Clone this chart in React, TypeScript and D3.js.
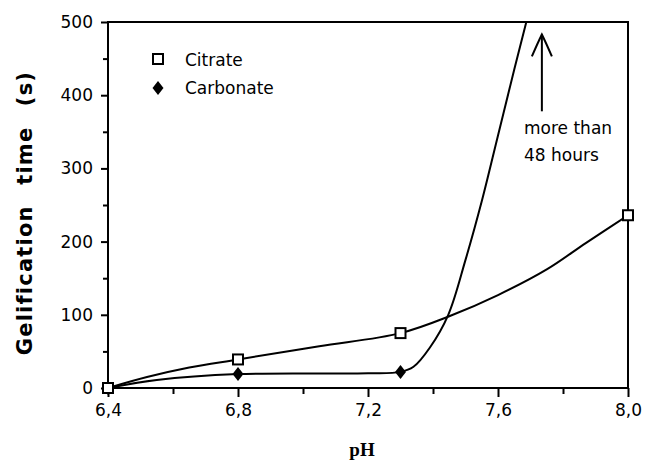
import React, { useEffect, useRef } from "react";
import * as d3 from "d3";

// marker values
const citratePH = [6.4, 6.8, 7.3, 8.0];
const citrateTime = [0, 39, 75, 236];
const carbonatePH = [6.4, 6.8, 7.3];
const carbonateTime = [0, 19, 22];

// fitted curves as drawn in the figure
const citrateCurvePH = [6.4, 6.52, 6.65, 6.8, 7.05, 7.3, 7.45, 7.6, 7.75, 7.87, 8.0];
const citrateCurveTime = [0, 15, 28, 39, 57, 75, 98, 127, 162, 198, 236];
const carbonateCurvePH = [6.4, 6.55, 6.8, 7.2, 7.3, 7.34, 7.39, 7.447, 7.5, 7.55, 7.6, 7.65, 7.69];
const carbonateCurveTime = [0, 11, 19, 20, 22, 29, 55, 100, 175, 255, 345, 435, 505];

const xMajorTicks = [6.4, 6.8, 7.2, 7.6, 8.0];
const xMinorTicks = [6.6, 7.0, 7.4, 7.8];
const yMajorTicks = [0, 100, 200, 300, 400, 500];
const yMinorTicks = [50, 150, 250, 350, 450];

const FONT = "'DejaVu Sans', sans-serif";

export default function App() {
  const svgRef = useRef<SVGSVGElement>(null);

  useEffect(() => {
    const svg = d3.select(svgRef.current);
    svg.selectAll("*").remove();

    const W = 645;
    const H = 463;
    const margin = { top: 22, right: 17, bottom: 75, left: 108 };
    const width = W - margin.left - margin.right;
    const height = H - margin.top - margin.bottom;

    svg.attr("width", W).attr("height", H);

    const x = d3.scaleLinear().domain([6.4, 8.0]).range([0, width]);
    const y = d3.scaleLinear().domain([0, 500]).range([height, 0]);

    const g = svg
      .append("g")
      .attr("transform", `translate(${margin.left},${margin.top})`);

    g.append("defs")
      .append("clipPath")
      .attr("id", "plot-clip")
      .append("rect")
      .attr("width", width)
      .attr("height", height);

    // frame
    g.append("rect")
      .attr("width", width)
      .attr("height", height)
      .attr("fill", "none")
      .attr("stroke", "#000")
      .attr("stroke-width", 2);

    const comma = (v: number) => d3.format(".1f")(v).replace(".", ",");

    // x axis
    const xAxis = g.append("g").attr("transform", `translate(0,${height})`);
    xAxis
      .call(
        d3.axisBottom(x).tickValues(xMajorTicks).tickSize(9).tickPadding(7).tickFormat((d) => comma(+d))
      )
      .call((a) => a.select(".domain").remove());
    xAxis
      .append("g")
      .call(d3.axisBottom(x).tickValues(xMinorTicks).tickSize(6).tickFormat(() => ""))
      .call((a) => a.select(".domain").remove());

    // y axis
    const yAxis = g.append("g");
    yAxis
      .call(d3.axisLeft(y).tickValues(yMajorTicks).tickSize(7).tickPadding(8))
      .call((a) => a.select(".domain").remove());
    yAxis
      .append("g")
      .call(d3.axisLeft(y).tickValues(yMinorTicks).tickSize(5).tickFormat(() => ""))
      .call((a) => a.select(".domain").remove());

    svg.selectAll(".tick line").attr("stroke", "#000").attr("stroke-width", 2);
    svg
      .selectAll(".tick text")
      .attr("fill", "#000")
      .style("font-family", FONT)
      .style("font-size", "17px");

    // axis titles
    svg
      .append("text")
      .attr("transform", "translate(25,213) rotate(-90)")
      .attr("text-anchor", "middle")
      .attr("dominant-baseline", "central")
      .style("font-family", FONT)
      .style("font-weight", "bold")
      .style("font-size", "21px")
      .style("letter-spacing", "1.2px")
      .style("word-spacing", "12px")
      .text("Gelification time (s)");

    svg
      .append("text")
      .attr("x", margin.left + x(7.2) - 6)
      .attr("y", 449)
      .attr("text-anchor", "middle")
      .attr("dominant-baseline", "central")
      .style("font-family", "'Liberation Serif', serif")
      .style("font-weight", "bold")
      .style("font-size", "19px")
      .text("pH");

    // curves
    const line = d3
      .line<[number, number]>()
      .x((d) => x(d[0]))
      .y((d) => y(d[1]))
      .curve(d3.curveCatmullRom.alpha(0.5));

    const plot = g.append("g").attr("clip-path", "url(#plot-clip)");

    plot
      .append("path")
      .datum(citrateCurvePH.map((p, i) => [p, citrateCurveTime[i]] as [number, number]))
      .attr("d", line)
      .attr("fill", "none")
      .attr("stroke", "#000")
      .attr("stroke-width", 2);

    plot
      .append("path")
      .datum(carbonateCurvePH.map((p, i) => [p, carbonateCurveTime[i]] as [number, number]))
      .attr("d", line)
      .attr("fill", "none")
      .attr("stroke", "#000")
      .attr("stroke-width", 2);

    const diamond = "M0,-7L5.5,0L0,7L-5.5,0Z";

    // markers
    g.selectAll(".carb")
      .data(carbonatePH.map((p, i) => [p, carbonateTime[i]]))
      .enter()
      .append("path")
      .attr("class", "carb")
      .attr("transform", (d) => `translate(${x(d[0])},${y(d[1])})`)
      .attr("d", diamond)
      .attr("fill", "#000");

    g.selectAll(".cit")
      .data(citratePH.map((p, i) => [p, citrateTime[i]]))
      .enter()
      .append("rect")
      .attr("class", "cit")
      .attr("x", (d) => x(d[0]) - 5)
      .attr("y", (d) => y(d[1]) - 5)
      .attr("width", 10)
      .attr("height", 10)
      .attr("fill", "#fff")
      .attr("stroke", "#000")
      .attr("stroke-width", 2);

    // legend
    const legend = svg.append("g");
    legend
      .append("rect")
      .attr("x", 153)
      .attr("y", 54)
      .attr("width", 10)
      .attr("height", 10)
      .attr("fill", "#fff")
      .attr("stroke", "#000")
      .attr("stroke-width", 2);
    legend
      .append("path")
      .attr("transform", "translate(158,88)")
      .attr("d", diamond)
      .attr("fill", "#000");
    legend
      .selectAll("text")
      .data([
        ["Citrate", 60],
        ["Carbonate", 88],
      ])
      .enter()
      .append("text")
      .attr("x", 185)
      .attr("y", (d) => d[1] as number)
      .attr("dominant-baseline", "central")
      .style("font-family", FONT)
      .style("font-size", "17px")
      .text((d) => d[0] as string);

    // annotation arrow + note
    const ax = x(7.735);
    const aTop = y(483);
    const aBot = y(378);
    g.append("line")
      .attr("x1", ax)
      .attr("x2", ax)
      .attr("y1", aTop)
      .attr("y2", aBot)
      .attr("stroke", "#000")
      .attr("stroke-width", 2);
    g.append("path")
      .attr(
        "d",
        `M${ax - 10},${aTop + 22}Q${ax - 4},${aTop + 8} ${ax},${aTop}Q${ax + 4},${aTop + 8} ${ax + 10},${aTop + 22}`
      )
      .attr("fill", "none")
      .attr("stroke", "#000")
      .attr("stroke-width", 2);

    g.selectAll(".note")
      .data([
        ["more than", 355],
        ["48 hours", 318],
      ])
      .enter()
      .append("text")
      .attr("class", "note")
      .attr("x", x(7.68))
      .attr("y", (d) => y(d[1] as number))
      .attr("dominant-baseline", "central")
      .style("font-family", FONT)
      .style("font-size", "17px")
      .text((d) => d[0] as string);
  }, []);

  return (
    <svg
      ref={svgRef}
      style={{ position: "absolute", left: 0, top: 0, background: "#fff" }}
    ></svg>
  );
}
